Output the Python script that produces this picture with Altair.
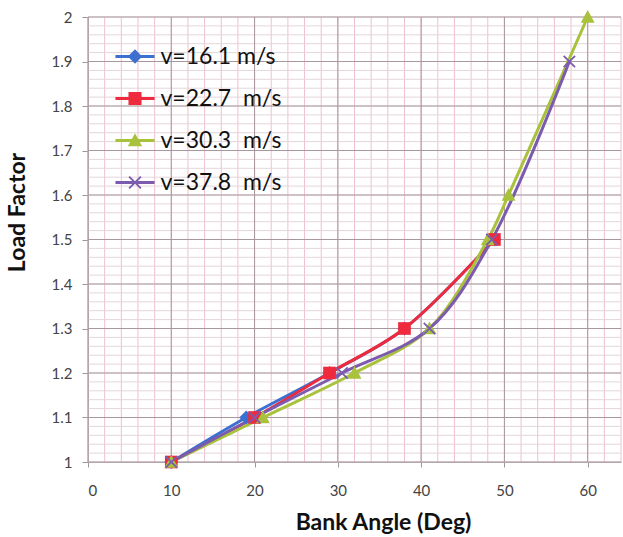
import altair as alt
import pandas as pd

# ---- data ----
series_names = ["v=16.1 m/s", "v=22.7\u00a0 m/s", "v=30.3\u00a0 m/s", "v=37.8\u00a0 m/s"]
colors = ["#3B6FD0", "#EE2A3C", "#A8C23C", "#7B5BAE"]

blue_x = [10, 19, 29, 38, 48.8]
blue_y = [1.0, 1.1, 1.2, 1.3, 1.5]
red_x = [10, 20, 29, 38, 48.8]
red_y = [1.0, 1.1, 1.2, 1.3, 1.5]
green_x = [10, 21, 32, 41, 48, 50.5, 60]
green_y = [1.0, 1.1, 1.2, 1.3, 1.5, 1.6, 2.0]
purple_x = [10, 20, 30.5, 41, 48.5, 57.8]
purple_y = [1.0, 1.1, 1.2, 1.3, 1.5, 1.9]

x_ticks = [0, 10, 20, 30, 40, 50, 60]
y_ticks = [1.0, 1.1, 1.2, 1.3, 1.4, 1.5, 1.6, 1.7, 1.8, 1.9, 2.0]
x_minor = [v for v in range(0, 65, 2)]
y_minor = [round(1 + i * 0.02, 2) for i in range(51)]

# marker shapes (data) and legend shapes (line + marker)
X_PATH = "M-1,-0.8L-0.8,-1L0,-0.2L0.8,-1L1,-0.8L0.2,0L1,0.8L0.8,1L0,0.2L-0.8,1L-1,0.8L-0.2,0Z"
point_shapes = [
    "M0,-1.1L1.1,0L0,1.1L-1.1,0Z",
    "M-1,-1H1V1H-1Z",
    "M0,-1.1L1.1,0.9H-1.1Z",
    X_PATH,
]
BAR = "M-3,-0.22H3V0.22H-3Z"
legend_shapes = [BAR + s for s in point_shapes]

rows = []
for name, xs, ys in zip(series_names, [blue_x, red_x, green_x, purple_x],
                        [blue_y, red_y, green_y, purple_y]):
    for i, (a, b) in enumerate(zip(xs, ys)):
        rows.append({"series": name, "angle": a, "load": b, "idx": i})
df = pd.DataFrame(rows)

xscale = alt.Scale(domain=[0, 64], nice=False, zero=False)
yscale = alt.Scale(domain=[1, 2], nice=False, zero=False)
cscale = alt.Scale(domain=series_names, range=colors)

FONT = "Lato"

x_axis = alt.Axis(values=x_ticks, grid=False, title="Bank Angle (Deg)",
                  labelFont=FONT, labelFontSize=15, labelColor="#444444",
                  tickSize=5, tickColor="#999999", domainColor="#999999",
                  labelPadding=16, titleFont=FONT, titleFontSize=23,
                  titleFontWeight="bold", titleColor="#111111",
                  titleX=295, titleY=60, titleBaseline="middle",
                  titleAnchor="start", titleAlign="center")
y_axis = alt.Axis(values=y_ticks, grid=False, title="Load Factor",
                  labelExpr="datum.value == 1 ? '1' : datum.value == 2 ? '2' : format(datum.value, '.1f')",
                  labelFont=FONT, labelFontSize=15, labelColor="#444444",
                  tickSize=6, tickColor="#999999", domainColor="#999999",
                  labelPadding=10, titleFont=FONT, titleFontSize=23,
                  titleFontWeight="bold", titleColor="#111111",
                  titleX=-71, titleY=195, titleBaseline="middle",
                  titleAngle=-90, titleAnchor="start", titleAlign="center")


def X(field):
    return alt.X(field, scale=xscale, axis=x_axis)


def Y(field):
    return alt.Y(field, scale=yscale, axis=y_axis)


minor_v = alt.Chart(pd.DataFrame({"gx": x_minor})).mark_rule(
    color="#F0BFD0", strokeWidth=1).encode(x=X("gx:Q"))
minor_h = alt.Chart(pd.DataFrame({"gy": y_minor})).mark_rule(
    color="#E4D6DB", strokeWidth=1).encode(y=Y("gy:Q"))
major_v = alt.Chart(pd.DataFrame({"gx": x_ticks})).mark_rule(
    color="#A8979E", strokeWidth=1).encode(x=X("gx:Q"))
major_h = alt.Chart(pd.DataFrame({"gy": y_ticks})).mark_rule(
    color="#A8979E", strokeWidth=1).encode(y=Y("gy:Q"))

lines = alt.Chart(df).mark_line(strokeWidth=3, interpolate="catmull-rom").encode(
    x=X("angle:Q"), y=Y("load:Q"),
    color=alt.Color("series:N", scale=cscale, legend=None),
    order="idx:Q",
)

points = alt.Chart(df).mark_point(filled=True, opacity=1, size=160).encode(
    x=X("angle:Q"), y=Y("load:Q"),
    color=alt.Color("series:N", scale=cscale, legend=None),
    shape=alt.Shape("series:N", scale=alt.Scale(domain=series_names, range=point_shapes), legend=None),
)

leg = alt.Legend(title=None, orient="none", legendX=35.5, legendY=28,
                 symbolOpacity=1, symbolSize=170, labelFont=FONT,
                 labelFontSize=23, labelColor="#111111", labelOffset=14,
                 rowPadding=18, labelLimit=300)

legend_layer = alt.Chart(df).mark_point(filled=True, opacity=0).encode(
    x=X("angle:Q"), y=Y("load:Q"),
    color=alt.Color("series:N", scale=cscale, legend=leg),
    shape=alt.Shape("series:N", scale=alt.Scale(domain=series_names, range=legend_shapes), legend=leg),
)

chart = alt.layer(minor_v, minor_h, major_v, major_h, lines, points, legend_layer).resolve_scale(
    color="independent", shape="independent"
).properties(
    width=533, height=445,
    autosize=alt.AutoSizeParams(type="none"),
    padding={"left": 88, "top": 17, "right": 2, "bottom": 75},
    background="white",
).configure_view(stroke=None)

chart.save("out.html", embed_options={"renderer": "svg", "actions": False})
